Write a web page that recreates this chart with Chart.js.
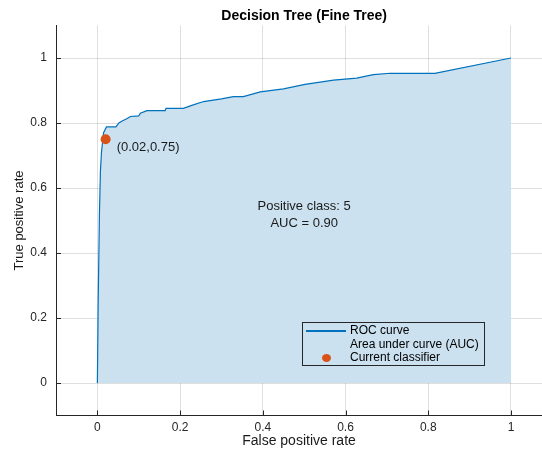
<!DOCTYPE html>
<html>
<head>
<meta charset="utf-8">
<script src="https://cdn.jsdelivr.net/npm/chart.js@4.4.1/dist/chart.umd.min.js"></script>
<style>
  html, body { margin: 0; padding: 0; background: #fff; }
</style>
</head>
<body>
<canvas id="roc" width="542" height="455"></canvas>
<script>
// ROC curve
const fpr = [0, 0.002, 0.005, 0.0075, 0.010, 0.015, 0.022, 0.045, 0.052, 0.060, 0.072, 0.080, 0.100, 0.104, 0.120, 0.164, 0.166, 0.208, 0.230, 0.257, 0.300, 0.329, 0.353, 0.394, 0.450, 0.502, 0.571, 0.627, 0.667, 0.708, 0.816, 1.0];
const tpr = [0, 0.25, 0.52, 0.655, 0.71, 0.77, 0.788, 0.788, 0.80, 0.806, 0.814, 0.820, 0.822, 0.830, 0.838, 0.838, 0.845, 0.845, 0.855, 0.866, 0.874, 0.881, 0.881, 0.896, 0.905, 0.919, 0.932, 0.938, 0.949, 0.953, 0.953, 1.0];
const classifierPoint = [0.02, 0.75];
const tickValues = [0, 0.2, 0.4, 0.6, 0.8, 1];
const legendLabels = ["ROC curve", "Area under curve (AUC)", "Current classifier"];
const chartTitle = "Decision Tree (Fine Tree)";
const positiveClass = "5";
const aucValue = 0.90;

const FONT = "'Liberation Sans', Arial, Helvetica, sans-serif";
const axisColor = "#262626";
const lineColor = "#0072BD";
const fillColor = "#CBE1F0";
const markerColor = "#D95319";

const overlay = {
  id: "overlay",
  afterDraw(chart) {
    const { ctx, chartArea: area, scales: { x, y } } = chart;
    ctx.save();

    // MATLAB style ticks pointing inward
    ctx.strokeStyle = axisColor;
    ctx.lineWidth = 1;
    ctx.beginPath();
    tickValues.forEach((v) => {
      const px = Math.round(x.getPixelForValue(v)) + 0.5;
      ctx.moveTo(px, area.bottom);
      ctx.lineTo(px, area.bottom - 5);
      const py = Math.round(y.getPixelForValue(v)) + 0.5;
      ctx.moveTo(area.left, py);
      ctx.lineTo(area.left + 5, py);
    });
    ctx.stroke();

    // title
    ctx.fillStyle = "#000";
    ctx.textAlign = "center";
    ctx.textBaseline = "middle";
    ctx.font = "bold 14px " + FONT;
    ctx.fillText(chartTitle, x.getPixelForValue(0.5), 16);

    // classifier label
    ctx.font = "13px " + FONT;
    ctx.fillStyle = "#1a1a1a";
    ctx.textAlign = "left";
    const lx = x.getPixelForValue(classifierPoint[0]) + 11;
    const ly = y.getPixelForValue(classifierPoint[1]) + 8;
    ctx.fillText("(" + classifierPoint[0].toFixed(2) + "," + classifierPoint[1].toFixed(2) + ")", lx, ly);

    // class / AUC text
    ctx.textAlign = "center";
    const cx = x.getPixelForValue(0.5);
    const cy = y.getPixelForValue(0.52);
    ctx.fillText("Positive class: " + positiveClass, cx, cy - 8);
    ctx.fillText("AUC = " + aucValue.toFixed(2), cx, cy + 9);

    // legend box
    const bx = 302.5, by = 322.5, bw = 182, bh = 43;
    ctx.strokeStyle = axisColor;
    ctx.strokeRect(bx, by, bw, bh);
    const rows = [331, 344.5, 358];
    ctx.font = "12px " + FONT;
    ctx.textAlign = "left";
    ctx.fillStyle = "#000";
    legendLabels.forEach((label, i) => ctx.fillText(label, 350, rows[i]));
    ctx.strokeStyle = lineColor;
    ctx.lineWidth = 2;
    ctx.beginPath();
    ctx.moveTo(306, rows[0]);
    ctx.lineTo(346, rows[0]);
    ctx.stroke();
    ctx.fillStyle = fillColor;
    ctx.fillRect(306, rows[1] - 5, 41, 10);
    ctx.fillStyle = markerColor;
    ctx.beginPath();
    ctx.ellipse(326.5, rows[2], 4.5, 4, 0, 0, Math.PI * 2);
    ctx.fill();

    ctx.restore();
  },
};

const setTicks = (axis) => {
  axis.ticks = tickValues.map((v) => ({ value: v }));
};

new Chart(document.getElementById("roc"), {
  type: "scatter",
  data: {
    datasets: [
      {
        label: legendLabels[0],
        data: fpr.map((v, i) => ({ x: v, y: tpr[i] })),
        showLine: true,
        borderColor: lineColor,
        borderWidth: 1.2,
        backgroundColor: fillColor,
        fill: "origin",
        pointRadius: 0,
        tension: 0,
        order: 2,
      },
      {
        label: legendLabels[2],
        data: [{ x: classifierPoint[0], y: classifierPoint[1] }],
        backgroundColor: markerColor,
        borderWidth: 0,
        pointRadius: 5,
        order: 1,
      },
    ],
  },
  options: {
    responsive: false,
    animation: false,
    layout: { autoPadding: false, padding: { top: 25.5, left: 0, right: 0, bottom: 0 } },
    plugins: {
      legend: { display: false },
      tooltip: { enabled: false },
    },
    scales: {
      x: {
        type: "linear",
        min: -0.1,
        max: 1.075,
        afterBuildTicks: setTicks,
        afterFit: (s) => { s.height = 39.5; },
        grid: { color: "rgba(38,38,38,0.15)", drawTicks: false },
        border: { color: axisColor, width: 1 },
        ticks: {
          padding: 5,
          color: axisColor,
          font: { family: FONT, size: 12 },
          callback: (v) => String(Math.round(v * 10) / 10),
        },
        title: {
          display: true,
          text: "False positive rate",
          color: "#1a1a1a",
          font: { family: FONT, size: 14 },
          padding: { top: 0, bottom: 5 },
        },
      },
      y: {
        type: "linear",
        min: -0.1,
        max: 1.1,
        afterBuildTicks: setTicks,
        afterFit: (s) => { s.width = 56; },
        grid: { color: "rgba(38,38,38,0.15)", drawTicks: false },
        border: { color: axisColor, width: 1 },
        ticks: {
          padding: 9,
          color: axisColor,
          font: { family: FONT, size: 12 },
          callback: (v) => String(Math.round(v * 10) / 10),
        },
        title: {
          display: true,
          text: "True positive rate",
          color: "#1a1a1a",
          font: { family: FONT, size: 13 },
          padding: { top: 12, bottom: 0 },
        },
      },
    },
  },
  plugins: [overlay],
});
</script>
</body>
</html>
